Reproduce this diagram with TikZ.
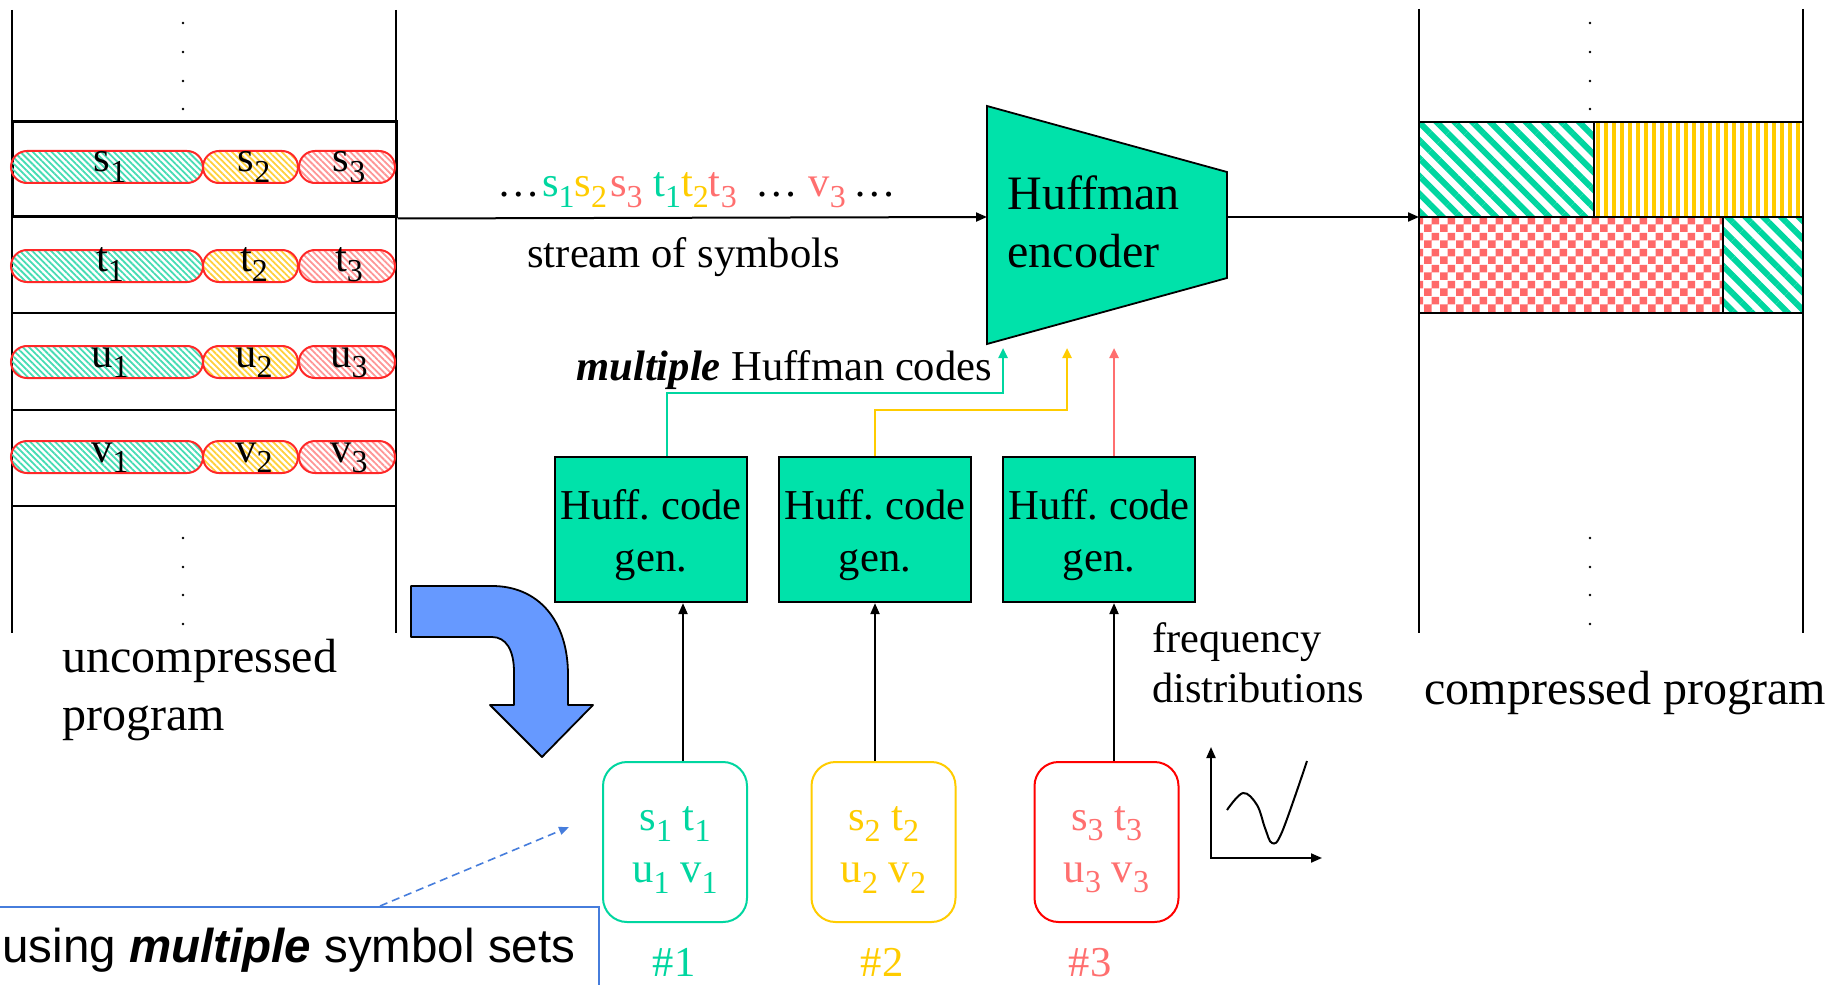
\documentclass[tikz,border=0pt]{standalone}
\usepackage{fontspec}
\setmainfont{Liberation Serif}
\newfontfamily\arialf{Liberation Sans}
\usetikzlibrary{patterns.meta, shapes.misc, arrows.meta, calc}
\frenchspacing

\definecolor{hteal}{RGB}{0,226,170}
\definecolor{tteal}{RGB}{0,214,160}
\definecolor{tyel}{RGB}{255,204,0}
\definecolor{tsal}{RGB}{255,111,111}
\definecolor{pillred}{RGB}{255,40,40}
\definecolor{phteal}{RGB}{70,220,180}
\definecolor{phyel}{RGB}{255,208,60}
\definecolor{phpink}{RGB}{255,150,150}
\definecolor{barrow}{RGB}{102,153,255}
\definecolor{cblue}{RGB}{70,125,220}
\definecolor{chred}{RGB}{255,105,105}
\definecolor{stripteal}{RGB}{0,214,160}

\pgfdeclarepattern{
  name=Checker,
  type=uncolored,
  bottom left={\pgfpoint{0pt}{0pt}},
  top right={\pgfpoint{8pt}{8pt}},
  tile size={\pgfpoint{8pt}{8pt}},
  code={
    \pgfpathrectangle{\pgfpointorigin}{\pgfpoint{4pt}{4pt}}
    \pgfpathrectangle{\pgfpoint{4pt}{4pt}}{\pgfpoint{4pt}{4pt}}
    \pgfusepath{fill}
  }
}

\newcommand\mainsz{\fontsize{21.3}{25}\selectfont}
\newcommand\boxsz{\fontsize{21.3}{26}\selectfont}
\newcommand\bigsz{\fontsize{24}{28.5}\selectfont}
\makeatletter
\newcommand\sbs[1]{\raisebox{-0.24em}{\@tempdima=\f@size pt\@tempdima=0.75\@tempdima\fontsize{\strip@pt\@tempdima}{0}\selectfont #1}}
\makeatother

\begin{document}
\begin{tikzpicture}[x=0.5pt,y=-0.5pt,
  arr/.style={line width=1pt, -{Triangle[length=5.5pt,width=4.5pt]}},
  colarr/.style={line width=1.2pt, -{Triangle[length=5pt,width=4.5pt]}},
  pill/.style={rounded rectangle, draw=pillred, line width=1pt, minimum height=16pt, inner sep=0pt},
  hatchA/.style={pattern={Lines[angle=-45,distance=2.2pt,line width=0.9pt]}, pattern color=phteal},
  hatchB/.style={pattern={Lines[angle=-45,distance=2.2pt,line width=0.9pt]}, pattern color=phyel},
  hatchC/.style={pattern={Lines[angle=-45,distance=2.2pt,line width=0.9pt]}, pattern color=phpink},
  huffbox/.style={draw=black, line width=1.1pt, fill=hteal, minimum width=96pt, minimum height=72.5pt, inner sep=0pt},
  symbox/.style={draw, rounded corners=12pt, line width=1pt, minimum width=72pt, minimum height=80pt, inner sep=0pt},
  boxtext/.style={font=\boxsz, align=center, inner sep=0pt},
  lbl/.style={font=\mainsz, inner sep=0pt},
  biglbl/.style={font=\bigsz, inner sep=0pt},
  blk/.style={draw=black, line width=1.2pt},
  dasharr/.style={draw=cblue, line width=0.8pt, dash pattern=on 4pt off 2.5pt, -{Triangle[length=5pt,width=4pt]}}
]
\useasboundingbox (0,0) rectangle (1839,984);
\fill[white] (0,0) rectangle (1839,984);

% ---------- left column (uncompressed program)
\draw[line width=1pt] (12,10) -- (12,633);
\draw[line width=1pt] (396,10) -- (396,633);
\node[draw, line width=1.5pt, minimum width=192pt, minimum height=47.5pt, inner sep=0pt] (row1) at (204,169.5) {};
\foreach \yy in {313,410,506} \draw[line width=1pt] (12,\yy) -- (396,\yy);
\foreach \yy in {23,52,81,109,538,567,595,624} {
  \fill (183,\yy) circle (0.7pt);
  \fill (1590,\yy) circle (0.7pt);
}
\foreach \yy/\ll in {167/s,266/t,362/u,457/v} {
  \node[pill, hatchA, minimum width=96pt] (p\ll1) at (107,\yy) {};
  \node[pill, hatchB, minimum width=47.5pt] (p\ll2) at (250.5,\yy) {};
  \node[pill, hatchC, minimum width=48pt] (p\ll3) at (347,\yy) {};
  \node[lbl, anchor=base] (l\ll1) at (110,\yy+5) {\ll\sbs{1}};
  \node[lbl, anchor=base] (l\ll2) at (254,\yy+5) {\ll\sbs{2}};
  \node[lbl, anchor=base] (l\ll3) at (349,\yy+5) {\ll\sbs{3}};
}
\node[biglbl, anchor=base west] (unc1) at (62,672) {uncompressed};
\node[biglbl, anchor=base west] (unc2) at (62,730) {program};

% ---------- stream
\node[lbl, anchor=base west] (stream) at (497,197) {\ldots\hspace{1pt}\textcolor{tteal}{s\sbs{1}}\textcolor{tyel}{s\sbs{2}}\hspace{1.5pt}\textcolor{tsal}{s\sbs{3}} \textcolor{tteal}{t\sbs{1}}\textcolor{tyel}{t\sbs{2}}\textcolor{tsal}{t\sbs{3}}\hspace{4pt} \ldots{} \textcolor{tsal}{v\sbs{3}}\hspace{4pt}\ldots};
\node[lbl, anchor=base west] (sos) at (527,267) {stream of symbols};

% ---------- encoder
\draw[fill=hteal, line width=0.9pt] (987,106) coordinate (e1) -- (1227,172) coordinate (e2) -- (1227,278) coordinate (e3) -- (987,344) coordinate (e4) -- cycle;
\coordinate (encin) at (987,217);
\coordinate (encout) at (1227,217);
\node[biglbl, anchor=base west] (enct1) at (1007,210) {Huffman};
\node[biglbl, anchor=base west] (enct2) at (1007,267) {encoder};
\draw[arr] (row1.south east) -- (encin);
\coordinate (rin) at (1419,217);
\draw[arr] (encout) -- (rin);

% ---------- right column (compressed program)
\draw[line width=1pt] (1419,9) -- (1419,633);
\draw[line width=1pt] (1803,9) -- (1803,633);
\draw[blk, pattern={Lines[angle=-45,distance=6.3pt,line width=3pt]}, pattern color=stripteal] (1419,122) rectangle (1594,217);
\begin{scope}
  \clip (1594,122) rectangle (1803,217);
  \foreach \xx in {1598,1606,...,1806} \draw[tyel, line width=2pt] (\xx,122) -- (\xx,217);
\end{scope}
\draw[blk] (1594,122) rectangle (1803,217);
\draw[blk, pattern=Checker, pattern color=chred] (1419,217) rectangle (1723,313);
\draw[blk, pattern={Lines[angle=-45,distance=6.3pt,line width=3pt]}, pattern color=stripteal] (1723,217) rectangle (1803,313);
\node[biglbl, anchor=base west] (cp) at (1424,704) {compressed program};

% ---------- code generators
\node[huffbox] (h1) at (651,529.5) {};
\node[huffbox] (h2) at (875,529.5) {};
\node[huffbox] (h3) at (1099,529.5) {};
\node[boxtext] (h1t) at ([yshift=-3pt]h1.center) {Huff. code\\gen.};
\node[boxtext] (h2t) at ([yshift=-3pt]h2.center) {Huff. code\\gen.};
\node[boxtext] (h3t) at ([yshift=-3pt]h3.center) {Huff. code\\gen.};

\node[lbl, anchor=base west] (mhc) at (576,380) {\textbf{\textit{multiple}} Huffman codes};
\coordinate (c1) at (1003,348);
\coordinate (c2) at (1067,348);
\coordinate (c3) at (1114,348);
\draw[colarr, color=tteal] ($(h1.north)+(16,0)$) |- (1003,393) -- (c1);
\draw[colarr, color=tyel] (h2.north) |- (1067,410) -- (c2);
\draw[colarr, color=tsal] ($(h3.north)+(15,0)$) -- (c3);

% ---------- symbol sets
\node[symbox, draw=tteal] (sb1) at (675,842) {};
\node[symbox, draw=tyel] (sb2) at (883.5,842) {};
\node[symbox, draw=red] (sb3) at (1106.5,842) {};
\node[boxtext, text=tteal] (sb1t) at ([yshift=-4pt]sb1.center) {s\sbs{1} t\sbs{1}\\u\sbs{1} v\sbs{1}};
\node[boxtext, text=tyel] (sb2t) at ([yshift=-4pt]sb2.center) {s\sbs{2} t\sbs{2}\\u\sbs{2} v\sbs{2}};
\node[boxtext, text=tsal] (sb3t) at ([yshift=-4pt]sb3.center) {s\sbs{3} t\sbs{3}\\u\sbs{3} v\sbs{3}};
\node[lbl, anchor=base, text=tteal] (n1) at (674,976) {\#1};
\node[lbl, anchor=base, text=tyel] (n2) at (882,976) {\#2};
\node[lbl, anchor=base, text=tsal] (n3) at (1090,976) {\#3};

\draw[arr] ($(sb1.north)+(8,0)$) -- ($(h1.south)+(32,0)$);
\draw[arr] ($(sb2.north)+(-8.5,0)$) -- (h2.south);
\draw[arr] ($(sb3.north)+(7.5,0)$) -- ($(h3.south)+(15,0)$);

% ---------- frequency distributions
\node[anchor=base west, font=\fontsize{21.2}{25}\selectfont, inner sep=0pt] (fq1) at (1152,652) {frequency};
\node[anchor=base west, font=\fontsize{21.2}{25}\selectfont, inner sep=0pt] (fq2) at (1152,702) {distributions};
\coordinate (ax0) at (1211,858);
\coordinate (axy) at (1211,747);
\coordinate (axx) at (1322,858);
\draw[line width=1pt, {Triangle[length=5.5pt,width=4.5pt]}-{Triangle[length=5.5pt,width=4.5pt]}] (axy) -- (ax0) -- (axx);
\draw[line width=1pt] plot[smooth, tension=0.6] coordinates {(1227,810) (1243,793) (1257,805) (1265,828) (1272,843) (1282,832) (1307,761)};

% ---------- blue bent arrow
\draw[fill=barrow, line width=0.9pt, line join=round] (411,586) -- (492,586) .. controls (538,586) and (568,620) .. (568,675) -- (568,705) -- (593,705) -- (542,757) -- (490,705) -- (514,705) -- (514,672) .. controls (514,650) and (506,637) .. (492,637) -- (411,637) -- cycle;

% ---------- callout
\node[draw=cblue, line width=1.2pt, minimum width=302pt, minimum height=45pt, anchor=north west, inner sep=0pt] (cb) at (-6,906) {};
\node[anchor=base west, font=\arialf\fontsize{23.75}{28}\selectfont, inner sep=0pt] (ct) at (2,962) {using \textbf{\textit{multiple}} symbol sets};
\coordinate (dt) at (569,827);
\draw[dasharr] ($(cb.north west)+(386,0)$) -- (dt);
\end{tikzpicture}
\end{document}
